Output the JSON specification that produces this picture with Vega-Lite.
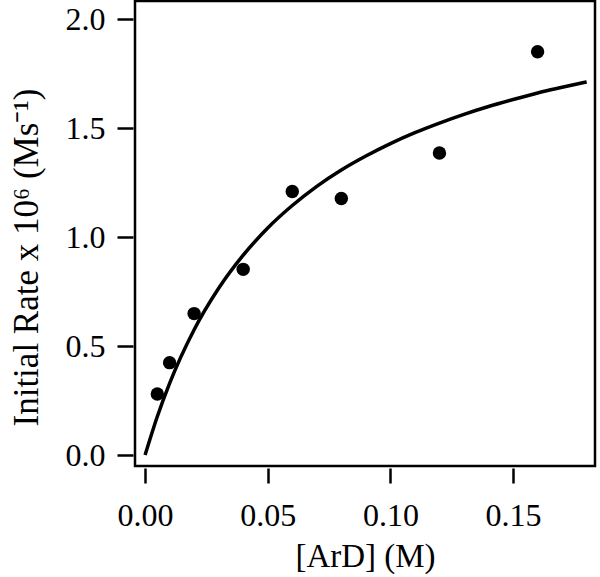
{
  "$schema": "https://vega.github.io/schema/vega-lite/v6.json",
  "autosize": "none",
  "width": 460,
  "height": 465,
  "padding": {"left": 135, "top": 1, "right": 5, "bottom": 111},
  "background": "white",
  "config": {
    "view": {"stroke": "black", "strokeWidth": 2.5},
    "font": "Liberation Serif",
    "axis": {
      "domain": false,
      "grid": false,
      "tickColor": "black",
      "tickWidth": 2.5,
      "labelColor": "black",
      "titleColor": "black",
      "labelFont": "Liberation Serif",
      "titleFont": "Liberation Serif",
      "labelFontSize": 32,
      "titleFontSize": 33,
      "titleFontWeight": "normal"
    }
  },
  "datasets": {
    "obs": [
      {"conc": 0.005, "rate": 0.28},
      {"conc": 0.01, "rate": 0.424},
      {"conc": 0.02, "rate": 0.649},
      {"conc": 0.04, "rate": 0.852},
      {"conc": 0.06, "rate": 1.209},
      {"conc": 0.08, "rate": 1.177},
      {"conc": 0.12, "rate": 1.386},
      {"conc": 0.16, "rate": 1.85}
    ],
    "fit": [
      {"conc": 0.0, "rate": 0.0},
      {"conc": 0.005, "rate": 0.177},
      {"conc": 0.01, "rate": 0.329},
      {"conc": 0.02, "rate": 0.575},
      {"conc": 0.03, "rate": 0.765},
      {"conc": 0.04, "rate": 0.917},
      {"conc": 0.05, "rate": 1.042},
      {"conc": 0.06, "rate": 1.145},
      {"conc": 0.07, "rate": 1.233},
      {"conc": 0.08, "rate": 1.308},
      {"conc": 0.09, "rate": 1.372},
      {"conc": 0.10, "rate": 1.429},
      {"conc": 0.11, "rate": 1.479},
      {"conc": 0.12, "rate": 1.523},
      {"conc": 0.13, "rate": 1.563},
      {"conc": 0.14, "rate": 1.599},
      {"conc": 0.15, "rate": 1.631},
      {"conc": 0.16, "rate": 1.661},
      {"conc": 0.17, "rate": 1.687},
      {"conc": 0.18, "rate": 1.712}
    ]
  },
  "layer": [
    {
      "data": {"name": "fit"},
      "mark": {"type": "line", "color": "black", "strokeWidth": 3.5, "interpolate": "monotone", "clip": true},
      "encoding": {
        "x": {
          "field": "conc", "type": "quantitative",
          "scale": {"domain": [-0.0041, 0.1834], "nice": false, "zero": false},
          "axis": {
            "title": "[ArD] (M)",
            "values": [0, 0.05, 0.1, 0.15],
            "format": ".2f",
            "offset": 2,
            "tickSize": 15,
            "labelPadding": 17,
            "titlePadding": 9
          }
        },
        "y": {
          "field": "rate", "type": "quantitative",
          "scale": {"domain": [-0.05, 2.083], "nice": false, "zero": false},
          "axis": {
            "title": "Initial Rate x 10⁶ (Ms⁻¹)",
            "titleFontSize": 35,
            "titleY": 256,
            "values": [0, 0.5, 1, 1.5, 2],
            "format": ".1f",
            "offset": 2,
            "tickSize": 16,
            "labelPadding": 12,
            "titlePadding": 21
          }
        }
      }
    },
    {
      "data": {"name": "obs"},
      "mark": {"type": "point", "filled": true, "color": "black", "opacity": 1, "size": 180},
      "encoding": {
        "x": {"field": "conc", "type": "quantitative"},
        "y": {"field": "rate", "type": "quantitative"}
      }
    }
  ]
}
